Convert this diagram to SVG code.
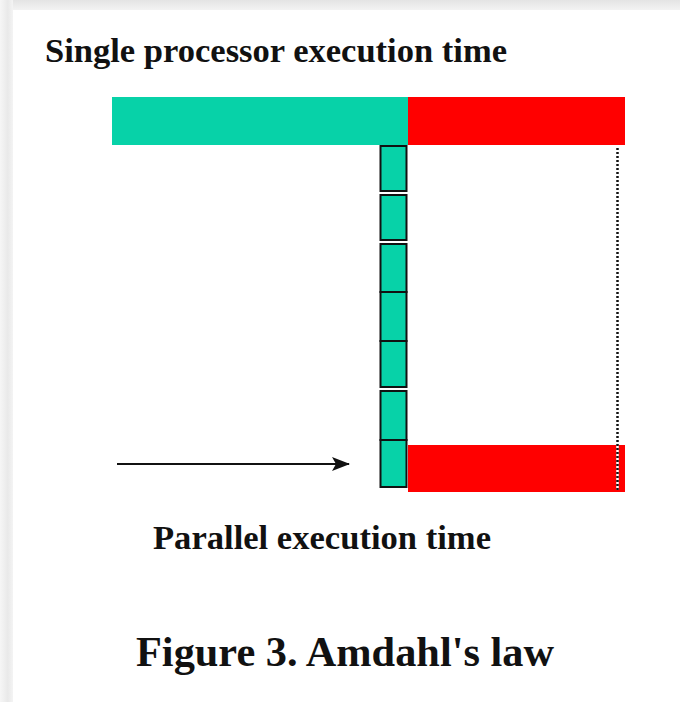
<svg xmlns="http://www.w3.org/2000/svg" width="680" height="702" viewBox="0 0 680 702">
  <style>
    .label { font-family: "Liberation Serif", "Times New Roman", serif; font-weight: bold; fill: #111; }
    .par { fill: #07D2A8; }
    .ser { fill: #FF0000; }
    .slice { fill: #07D2A8; stroke: #111; stroke-width: 2; }
    .conn { stroke: #111; stroke-width: 2; fill: none; }
  </style>
  <defs>
    <linearGradient id="shadeTop" x1="0" y1="0" x2="0" y2="1">
      <stop offset="0" stop-color="#e4e4e4"/>
      <stop offset="1" stop-color="#f3f3f3"/>
    </linearGradient>
    <linearGradient id="shadeLeft" x1="0" y1="0" x2="1" y2="0">
      <stop offset="0" stop-color="#f6f6f6"/>
      <stop offset="0.6" stop-color="#e9e9e9"/>
      <stop offset="1" stop-color="#f4f4f4"/>
    </linearGradient>
    <marker id="head" viewBox="0 0 18 16" refX="17" refY="8" markerWidth="18" markerHeight="16" markerUnits="userSpaceOnUse" orient="auto">
      <path d="M0,1 L18,8 L0,15 L4,8 Z" fill="#111"/>
    </marker>
  </defs>

  <!-- page with soft frame -->
  <rect width="680" height="702" fill="#ffffff"/>
  <rect x="0" y="0" width="680" height="10" fill="url(#shadeTop)"/>
  <rect x="0" y="0" width="13" height="702" fill="url(#shadeLeft)"/>

  <text class="label" x="45" y="62" font-size="34" textLength="462" lengthAdjust="spacingAndGlyphs">Single processor execution time</text>

  <!-- single processor run: parallel part + serial part -->
  <g id="single-run">
    <rect class="par" x="112" y="97" width="296" height="48"/>
    <rect class="ser" x="408" y="97" width="217" height="48"/>
  </g>

  <!-- parallel part split over processors -->
  <g id="parallel-slices">
    <rect class="slice" x="380.5" y="146" width="26" height="45"/>
    <rect class="slice" x="380.5" y="195" width="26" height="45"/>
    <rect class="slice" x="380.5" y="244" width="26" height="48"/>
    <rect class="slice" x="380.5" y="292" width="26" height="49"/>
    <rect class="slice" x="380.5" y="341" width="26" height="46"/>
    <rect class="slice" x="380.5" y="391" width="26" height="49"/>
    <rect class="slice" x="380.5" y="440" width="26" height="47"/>
  </g>

  <!-- serial part on the parallel run -->
  <g id="parallel-serial">
    <rect class="ser" x="408" y="445" width="217" height="47"/>
  </g>

  <g id="connectors">
    <line x1="617.5" y1="148" x2="617.5" y2="490" stroke="#ffffff" stroke-width="2.5"/>
    <line x1="617.5" y1="148" x2="617.5" y2="490" stroke="#111" stroke-width="2.5" stroke-dasharray="2 2"/>
    <line class="conn" x1="117" y1="464" x2="349" y2="464" marker-end="url(#head)"/>
  </g>

  <text class="label" x="153" y="549" font-size="34" textLength="338" lengthAdjust="spacingAndGlyphs">Parallel execution time</text>
  <text class="label" x="136" y="666" font-size="42" textLength="418" lengthAdjust="spacingAndGlyphs">Figure 3. Amdahl's law</text>
</svg>
